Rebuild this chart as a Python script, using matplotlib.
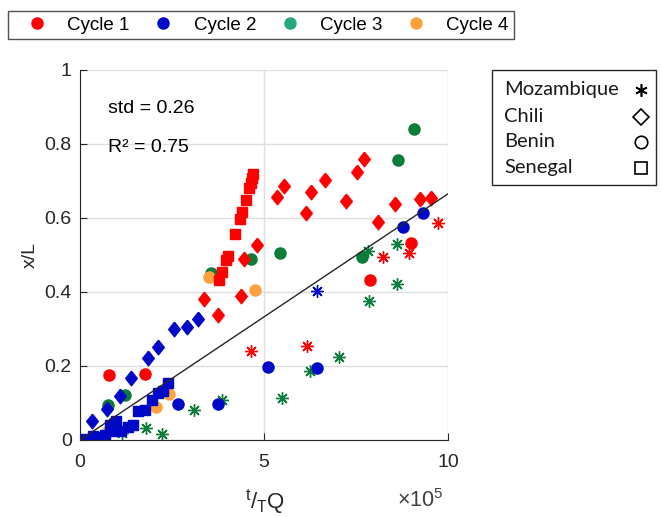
# x/L versus t/TQ for four cycles and four sites, with the linear fit

import matplotlib.pyplot as plt
from matplotlib.lines import Line2D
from matplotlib.patches import Rectangle

plt.rcParams['font.family'] = ['Liberation Sans', 'DejaVu Sans']

# Data (x in units of 1e5)
# Cycle 1 (red)
c1_moz_x = [4.66, 6.16, 8.22, 8.94, 9.74]
c1_moz_y = [0.241, 0.254, 0.495, 0.505, 0.586]
c1_chi_x = [3.37, 3.76, 4.38, 4.47, 4.82, 5.36, 5.54, 6.13, 6.29, 6.67, 7.24, 7.53, 7.73, 8.10, 8.55, 9.25, 9.54]
c1_chi_y = [0.380, 0.338, 0.389, 0.489, 0.526, 0.656, 0.685, 0.613, 0.670, 0.702, 0.645, 0.724, 0.758, 0.590, 0.638, 0.652, 0.655]
c1_ben_x = [0.78, 1.76, 7.88, 9.00]
c1_ben_y = [0.176, 0.177, 0.432, 0.533]
c1_sen_x = [3.79, 3.87, 3.97, 4.03, 4.21, 4.35, 4.41, 4.51, 4.60, 4.64, 4.67, 4.69]
c1_sen_y = [0.432, 0.455, 0.486, 0.497, 0.557, 0.596, 0.617, 0.649, 0.680, 0.694, 0.707, 0.719]

# Cycle 2 (blue)
c2_moz_x = [6.43]
c2_moz_y = [0.403]
c2_chi_x = [0.32, 0.74, 1.09, 1.40, 1.86, 2.13, 2.56, 2.90, 3.21]
c2_chi_y = [0.050, 0.083, 0.118, 0.167, 0.221, 0.252, 0.300, 0.304, 0.327]
c2_ben_x = [0.90, 2.66, 3.76, 5.10, 6.45, 8.78, 9.31]
c2_ben_y = [0.045, 0.096, 0.096, 0.197, 0.194, 0.575, 0.613]
c2_sen_x = [0.14, 0.35, 0.54, 0.67, 0.85, 0.81, 0.99, 1.12, 1.30, 1.44, 1.59, 1.78, 1.96, 2.12, 2.26, 2.39]
c2_sen_y = [0.003, 0.010, 0.007, 0.014, 0.023, 0.041, 0.050, 0.023, 0.036, 0.041, 0.077, 0.081, 0.108, 0.126, 0.133, 0.155]

# Cycle 3 (green)
c3_moz_x = [1.15, 1.79, 2.24, 3.09, 3.86, 5.49, 6.25, 7.05, 7.83, 7.84, 8.61, 8.61]
c3_moz_y = [0.020, 0.032, 0.017, 0.080, 0.109, 0.113, 0.187, 0.225, 0.511, 0.375, 0.530, 0.420]
c3_ben_x = [0.77, 1.22, 3.55, 4.66, 5.43, 7.65, 8.65, 9.08]
c3_ben_y = [0.094, 0.122, 0.452, 0.488, 0.504, 0.495, 0.755, 0.841]

# Cycle 4 (orange)
c4_ben_x = [0.75, 2.07, 2.43, 3.51, 4.76]
c4_ben_y = [0.025, 0.090, 0.124, 0.441, 0.404]

# Linear fit
fit_x = [0, 10]
fit_y = [0.0, 0.665]

cycles = ['Cycle 1', 'Cycle 2', 'Cycle 3', 'Cycle 4']
sites = ['Mozambique', 'Chili', 'Benin', 'Senegal']

red = '#ff0000'
blue = '#0008c8'
green = '#0b7d3a'
orange = '#ffa23e'
ast = (8, 2, 0)
# slightly tall diamond, like the reference
dia = [(0, 1), (0.8, 0), (0, -1), (-0.8, 0), (0, 1)]

fig = plt.figure(figsize=(6.62, 5.17), dpi=100)
ax = fig.add_axes([0.1208, 0.149, 0.556, 0.716])

# green first, then orange, red, blue on top
ax.plot(c3_moz_x, c3_moz_y, ls='none', marker=ast, ms=9, mew=1, color=green)
ax.plot(c3_ben_x, c3_ben_y, ls='none', marker='o', ms=8, color=green)
ax.plot(c4_ben_x, c4_ben_y, ls='none', marker='o', ms=8, color=orange)
ax.plot(c1_moz_x, c1_moz_y, ls='none', marker=ast, ms=9, mew=1, color=red)
ax.plot(c1_chi_x, c1_chi_y, ls='none', marker=dia, ms=10.5, color=red)
ax.plot(c1_ben_x, c1_ben_y, ls='none', marker='o', ms=8, color=red)
ax.plot(c1_sen_x, c1_sen_y, ls='none', marker='s', ms=7, color=red)
ax.plot(c2_moz_x, c2_moz_y, ls='none', marker=ast, ms=9, mew=1, color=blue)
ax.plot(c2_chi_x, c2_chi_y, ls='none', marker=dia, ms=10.5, color=blue)
ax.plot(c2_ben_x, c2_ben_y, ls='none', marker='o', ms=8, color=blue)
ax.plot(c2_sen_x, c2_sen_y, ls='none', marker='s', ms=7, color=blue)

ax.plot(fit_x, fit_y, color='#262626', lw=1)

ax.set_xlim(0, 10)
ax.set_ylim(0, 1)
ax.set_xticks([0, 5, 10])
ax.set_yticks([0, 0.2, 0.4, 0.6, 0.8, 1])
ax.set_yticklabels(['0', '0.2', '0.4', '0.6', '0.8', '1'])
ax.grid(True, color='#dedede', lw=1)
ax.set_axisbelow(True)
ax.spines['top'].set_visible(False)
ax.spines['right'].set_visible(False)
for s in ['left', 'bottom']:
    ax.spines[s].set_color('#262626')
ax.tick_params(direction='in', length=5, labelsize=14, colors='#262626', pad=6)
ax.tick_params(axis='x', pad=10)

ax.text(0.75, 0.895, 'std = 0.26', fontsize=14, va='center')
ax.text(0.75, 0.79, 'R² = 0.75', fontsize=14, va='center')

ax.set_ylabel('x/L', fontsize=14, color='#262626')
fig.text(0.40, 0.016, r'$\mathregular{^{t}/_{T}Q}$', fontsize=16, ha='center', color='#262626')
fig.text(0.60, 0.02, r'$\mathregular{\times10^{5}}$', fontsize=15.5, ha='left', color='#404040')

# cycle legend (top)
cyc_handles = [Line2D([], [], ls='none', marker='o', ms=8, color=c)
               for c in [red, blue, '#26a67a', orange]]
leg1 = fig.legend(cyc_handles, cycles,
                  loc='upper left', bbox_to_anchor=(0.012, 0.979), borderaxespad=0,
                  ncol=4, fontsize=13.5, frameon=True, fancybox=False, edgecolor='#262626',
                  handlelength=2.5, handletextpad=0.36, columnspacing=0.55, borderpad=0.3)
leg1.get_frame().set_linewidth(1)

# site legend (right), drawn by hand so labels sit left and symbols right
fig.add_artist(Rectangle((0.743, 0.642), 0.248, 0.2226, transform=fig.transFigure,
                         fill=False, edgecolor='#262626', lw=1))
site_markers = [(6, 2, 0), 'D', 'o', 's']
site_ms = [9, 8, 9, 9]
row_y = [1 - 90 / 517, 1 - 116.5 / 517, 1 - 141.5 / 517, 1 - 168 / 517]
for name, mk, ms, yy in zip(sites, site_markers, site_ms, row_y):
    fig.text(0.762, yy, name, family='Lato', fontsize=14.5, va='center', color='#1a1a1a')
    fig.add_artist(Line2D([0.969], [yy], transform=fig.transFigure, ls='none',
                          marker=mk, ms=ms, mfc='none', mec='black', mew=1.2))

fig.savefig('out.png', dpi=100)
